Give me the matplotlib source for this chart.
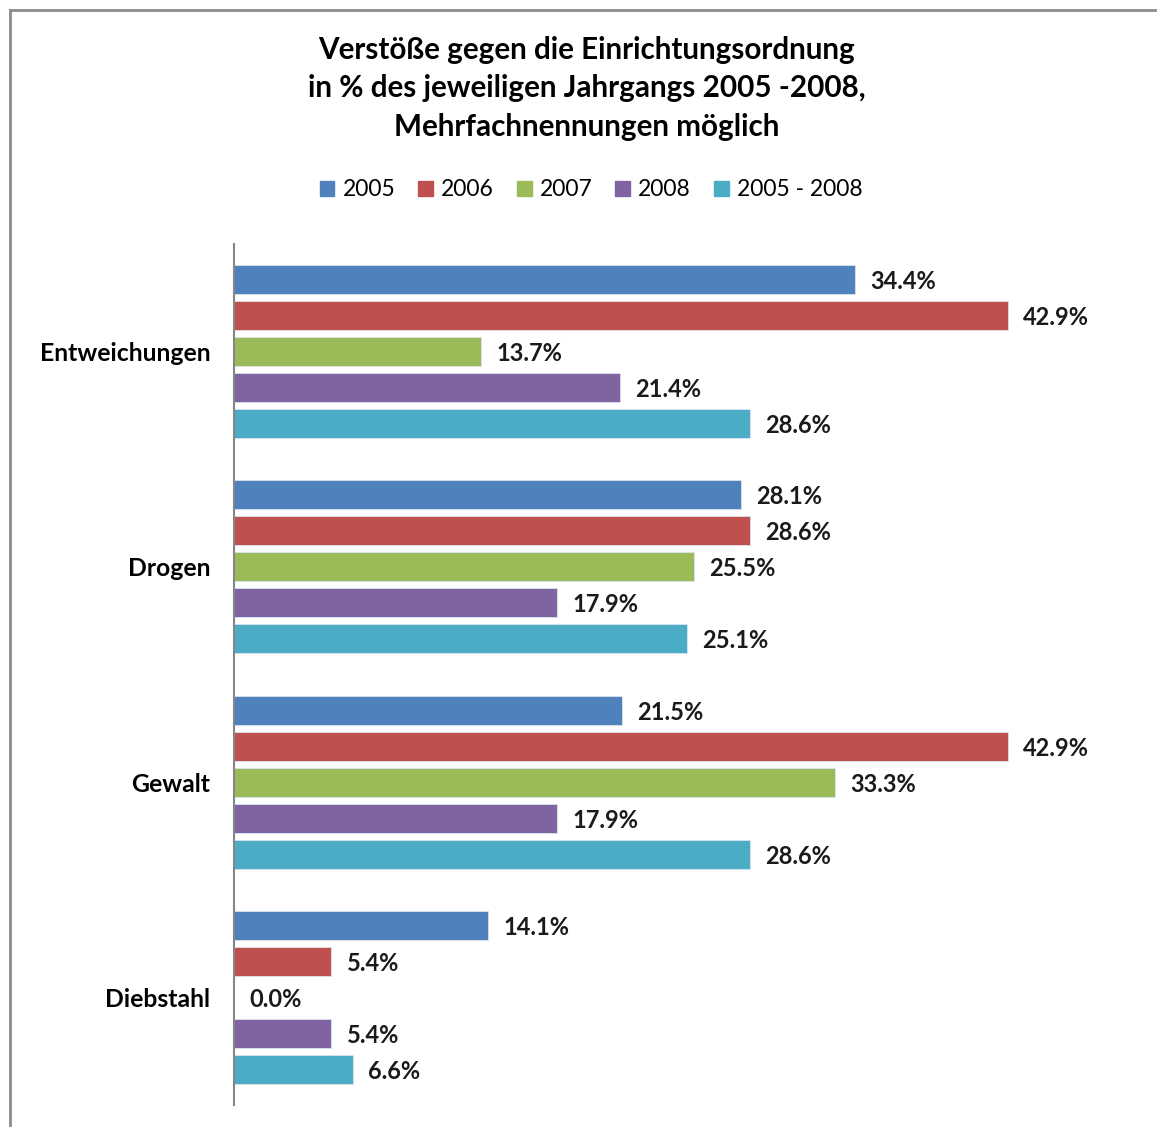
import numpy as np
import matplotlib.pyplot as plt
from matplotlib.lines import Line2D

plt.rcParams['font.family'] = ['Lato', 'DejaVu Sans']

categories = ['Entweichungen', 'Drogen', 'Gewalt', 'Diebstahl']
series = ['2005', '2006', '2007', '2008', '2005 - 2008']
values = {
    '2005': [34.4, 28.1, 21.5, 14.1],
    '2006': [42.9, 28.6, 42.9, 5.4],
    '2007': [13.7, 25.5, 33.3, 0.0],
    '2008': [21.4, 17.9, 17.9, 5.4],
    '2005 - 2008': [28.6, 25.1, 28.6, 6.6],
}
colors = ['#4F81BD', '#C0504D', '#9BBB59', '#8064A2', '#4BACC6']
title = ('Verstöße gegen die Einrichtungsordnung\n'
         'in % des jeweiligen Jahrgangs 2005 -2008,\n'
         'Mehrfachnennungen möglich')

W, H = 1157, 1127
fig = plt.figure(figsize=(W / 100, H / 100), dpi=100)
fig.patch.set_facecolor('white')

# axes placed in pixel coordinates
x0, x1 = 234, 1136
y0, y1 = 244, 1105
ax = fig.add_axes([x0 / W, 1 - y1 / H, (x1 - x0) / W, (y1 - y0) / H])

pitch = 36 / 215
height = 29 / 215
centers = np.arange(len(categories))
for i, (s, c) in enumerate(zip(series, colors)):
    y = centers + (i - 2) * pitch
    vals = values[s]
    ax.barh(y, vals, height=height, color=c, edgecolor='#dbe4f0', linewidth=0.6, zorder=2)
    for yy, v in zip(y, vals):
        ax.text(v + 0.85, yy, f'{v:.1f}%', va='center_baseline', ha='left',
                fontsize=17, fontweight='bold', color='#1a1a1a')

ax.set_xlim(0, 50)
ax.set_ylim(len(categories) - 0.5, -0.5)
ax.set_yticks(centers)
ax.set_yticklabels(categories, fontsize=17.8, fontweight='bold')
ax.tick_params(axis='y', length=0, pad=17)
ax.set_xticks([])
for side in ['top', 'right', 'bottom']:
    ax.spines[side].set_visible(False)
ax.spines['left'].set_color('#868686')
ax.spines['left'].set_linewidth(1.5)

fig.text(587 / W, 1 - 36 / H, title, ha='center', va='top', fontsize=21.3,
         fontweight='bold', linespacing=1.45)

handles = [plt.Rectangle((0, 0), 1, 1, color=c) for c in colors]
fig.legend(handles, series, loc='center', bbox_to_anchor=(591 / W, 1 - 190 / H),
           ncol=5, frameon=False, fontsize=16.5, handlelength=0.65, handleheight=0.65,
           handletextpad=0.35, columnspacing=1.0)

# outer chart border (left and top visible)
fig.add_artist(Line2D([9.5 / W, 9.5 / W], [0, 1 - 10 / H], transform=fig.transFigure,
                      color='#8c8c8c', linewidth=2))
fig.add_artist(Line2D([9.5 / W, 1], [1 - 10 / H, 1 - 10 / H], transform=fig.transFigure,
                      color='#8c8c8c', linewidth=2))

fig.savefig('out.png', dpi=100)
